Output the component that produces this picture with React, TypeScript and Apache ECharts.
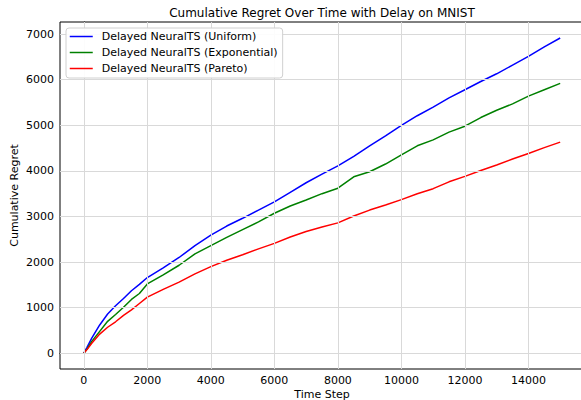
import React, { useEffect, useRef } from "react";
import * as echarts from "echarts";

const steps = [0, 100, 250, 500, 750, 1000, 1250, 1500, 1750, 2000, 2500, 3000, 3500, 4000, 4500, 5000, 5500, 6000, 6500, 7000, 7500, 8000, 8500, 9000, 9500, 10000, 10500, 11000, 11500, 12000, 12500, 13000, 13500, 14000, 14500, 15000];
const uniformRegret = [0, 130, 330, 620, 860, 1040, 1200, 1370, 1510, 1660, 1870, 2100, 2360, 2590, 2790, 2960, 3140, 3320, 3530, 3740, 3930, 4110, 4320, 4550, 4770, 5000, 5210, 5400, 5600, 5780, 5960, 6130, 6320, 6510, 6720, 6915];
const exponentialRegret = [0, 90, 260, 480, 700, 850, 1010, 1180, 1310, 1520, 1720, 1930, 2180, 2360, 2540, 2710, 2880, 3070, 3230, 3360, 3500, 3620, 3870, 3980, 4150, 4350, 4550, 4680, 4850, 4980, 5170, 5330, 5470, 5640, 5780, 5920];
const paretoRegret = [0, 80, 220, 420, 570, 690, 830, 950, 1090, 1230, 1400, 1560, 1740, 1900, 2040, 2160, 2290, 2410, 2550, 2670, 2770, 2860, 3010, 3140, 3250, 3370, 3500, 3610, 3760, 3880, 4010, 4130, 4260, 4380, 4510, 4630];

const xTicks = [0, 2000, 4000, 6000, 8000, 10000, 12000, 14000];
const yTicks = [0, 1000, 2000, 3000, 4000, 5000, 6000, 7000];
const seriesNames = ["Delayed NeuralTS (Uniform)", "Delayed NeuralTS (Exponential)", "Delayed NeuralTS (Pareto)"];
const seriesColors = ["#0000ff", "#008000", "#ff0000"];
const seriesValues = [uniformRegret, exponentialRegret, paretoRegret];

const FONT = "DejaVu Sans";

export default function App() {
  const ref = useRef<HTMLDivElement>(null);
  useEffect(() => {
    if (!ref.current) return;
    const chart = echarts.init(ref.current, undefined, { renderer: "svg" });
    const gridLine = {
      silent: true,
      symbol: ["none", "none"],
      label: { show: false },
      lineStyle: { color: "#d9d9d9", width: 1, type: "solid" },
      emphasis: { disabled: true },
      data: [
        ...xTicks.map((v) => ({ xAxis: v })),
        ...yTicks.map((v) => ({ yAxis: v })),
      ],
    };
    chart.setOption({
      animation: false,
      backgroundColor: "#ffffff",
      textStyle: { fontFamily: FONT },
      graphic: [
        {
          type: "text",
          x: 322,
          y: 13,
          style: {
            text: "Cumulative Regret Over Time with Delay on MNIST",
            fontFamily: FONT,
            fontSize: 12,
            fill: "#000",
            textAlign: "center",
            textVerticalAlign: "middle",
          },
        },
      ],
      legend: {
        data: seriesNames,
        orient: "vertical",
        left: 66,
        top: 28,
        z: 20,
        itemWidth: 23,
        itemHeight: 11,
        itemGap: 5,
        padding: [3, 5, 4, 3],
        backgroundColor: "rgba(255,255,255,0.92)",
        borderColor: "#d0d0d0",
        borderWidth: 1,
        borderRadius: 3,
        itemStyle: { opacity: 0 },
        lineStyle: { width: 1.5 },
        formatter: (name: string) => `{pad|}{t|${name}}`,
        textStyle: {
          fontFamily: FONT,
          fontSize: 11,
          color: "#000",
          rich: {
            pad: { width: 4 },
            t: { fontFamily: FONT, fontSize: 11, color: "#000" },
          },
        },
      },
      grid: {
        left: 60,
        top: 22,
        width: 524,
        height: 347,
        show: true,
        borderColor: "#000",
        borderWidth: 1,
        containLabel: false,
        outerBoundsMode: "none",
      },
      xAxis: {
        type: "value",
        min: -750,
        max: 15750,
        name: "Time Step",
        nameLocation: "middle",
        nameGap: 20,
        nameMoveOverlap: false,
        nameTextStyle: { fontFamily: FONT, fontSize: 11, color: "#000" },
        axisLine: { show: true, lineStyle: { color: "#000", width: 1 } },
        axisTick: { show: true, customValues: xTicks, length: 4, lineStyle: { color: "#000" } },
        axisLabel: {
          customValues: xTicks,
          fontFamily: FONT,
          fontSize: 11,
          color: "#000",
          margin: 6,
          formatter: (v: number) => String(v),
        },
        splitLine: { show: false },
      },
      yAxis: {
        type: "value",
        min: -346,
        max: 7266,
        name: "Cumulative Regret",
        nameLocation: "middle",
        nameGap: 40,
        nameMoveOverlap: false,
        nameTextStyle: { fontFamily: FONT, fontSize: 11, color: "#000" },
        axisLine: { show: true, lineStyle: { color: "#000", width: 1 } },
        axisTick: { show: true, customValues: yTicks, length: 4, lineStyle: { color: "#000" } },
        axisLabel: {
          customValues: yTicks,
          fontFamily: FONT,
          fontSize: 11,
          color: "#000",
          margin: 6,
          formatter: (v: number) => String(v),
        },
        splitLine: { show: false },
      },
      series: [
        {
          type: "line",
          name: "__grid",
          data: [[0, 0]],
          symbol: "none",
          lineStyle: { opacity: 0 },
          silent: true,
          z: 1,
          markLine: gridLine,
        },
        ...seriesNames.map((name, i) => ({
          type: "line",
          name,
          data: steps.map((s, j) => [s, seriesValues[i][j]]),
          symbol: "none",
          color: seriesColors[i],
          lineStyle: { color: seriesColors[i], width: 1.5 },
          z: 2 + i,
        })),
      ],
    });
    return () => chart.dispose();
  }, []);
  return <div ref={ref} style={{ position: "fixed", left: 0, top: 0, width: 581, height: 400 }} />;
}
